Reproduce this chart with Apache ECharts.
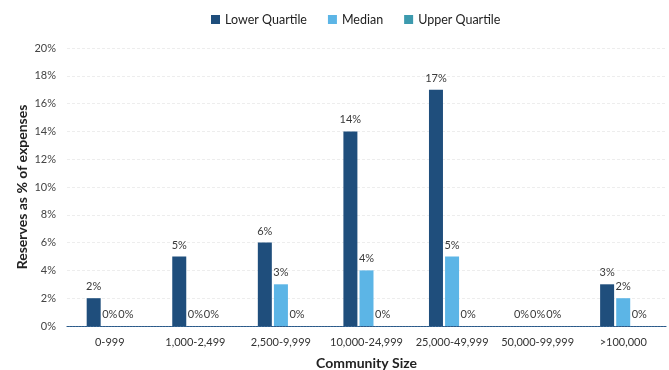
<!DOCTYPE html>
<html>
<head>
<meta charset="utf-8">
<script src="https://cdn.jsdelivr.net/npm/echarts@6/dist/echarts.min.js"></script>
<style>
  html, body { margin: 0; padding: 0; background: #fff; }
  #chart { width: 669px; height: 370px; }
</style>
</head>
<body>
<div id="chart"></div>
<script>
// Reserve levels by community size (percent of expenses)
const categories = ['0-999', '1,000-2,499', '2,500-9,999', '10,000-24,999', '25,000-49,999', '50,000-99,999', '>100,000'];
const lowerQuartile = [2, 5, 6, 14, 17, 0, 3];
const median = [0, 0, 3, 4, 5, 0, 2];
const upperQuartile = [0, 0, 0, 0, 0, 0, 0];
const yTicks = [0, 2, 4, 6, 8, 10, 12, 14, 16, 18, 20];

const FONT = 'Lato, "Open Sans", sans-serif';

const barLabel = {
  show: true,
  position: 'top',
  distance: 6,
  formatter: p => p.value + '%',
  fontFamily: FONT,
  fontSize: 11,
  color: '#3a3a3a'
};

function series(name, data, color) {
  return {
    name: name,
    type: 'bar',
    data: data,
    barWidth: 14,
    barGap: '15%',
    itemStyle: { color: color },
    label: barLabel
  };
}

const chart = echarts.init(document.getElementById('chart'));
chart.setOption({
  animation: false,
  backgroundColor: '#fff',
  legend: {
    top: 8,
    left: 206,
    itemWidth: 9,
    itemHeight: 9,
    itemGap: 21,
    icon: 'rect',
    textStyle: { fontFamily: FONT, fontSize: 12.5, color: '#222' }
  },
  grid: { left: 67, right: 3, top: 48, bottom: 44, containLabel: false, outerBoundsMode: 'none' },
  xAxis: {
    type: 'category',
    data: categories,
    name: 'Community Size',
    nameLocation: 'middle',
    nameGap: 30,
    nameTextStyle: { fontFamily: FONT, fontSize: 14, fontWeight: 'bold', color: '#222' },
    axisTick: { show: false },
    axisLine: { lineStyle: { color: '#2a5a8a', width: 1.2, type: [2, 1] } },
    axisLabel: { fontFamily: FONT, fontSize: 11, color: '#333', margin: 11, interval: 0 },
    z: 5
  },
  yAxis: {
    type: 'value',
    min: yTicks[0],
    max: yTicks[yTicks.length - 1],
    interval: 2,
    name: 'Reserves as % of expenses',
    nameLocation: 'middle',
    nameGap: 38,
    nameMoveOverlap: false,
    nameTextStyle: { fontFamily: FONT, fontSize: 14, fontWeight: 'bold', color: '#222' },
    axisLine: { show: false },
    axisTick: { show: false },
    axisLabel: { fontFamily: FONT, fontSize: 11, color: '#444', margin: 11, formatter: v => v + '%' },
    splitLine: { lineStyle: { color: '#ededed', type: [3, 2], width: 1 } }
  },
  series: [
    series('Lower Quartile', lowerQuartile, '#1f4e7c'),
    series('Median', median, '#5cb5e6'),
    series('Upper Quartile', upperQuartile, '#3c9aae')
  ]
});
</script>
</body>
</html>
